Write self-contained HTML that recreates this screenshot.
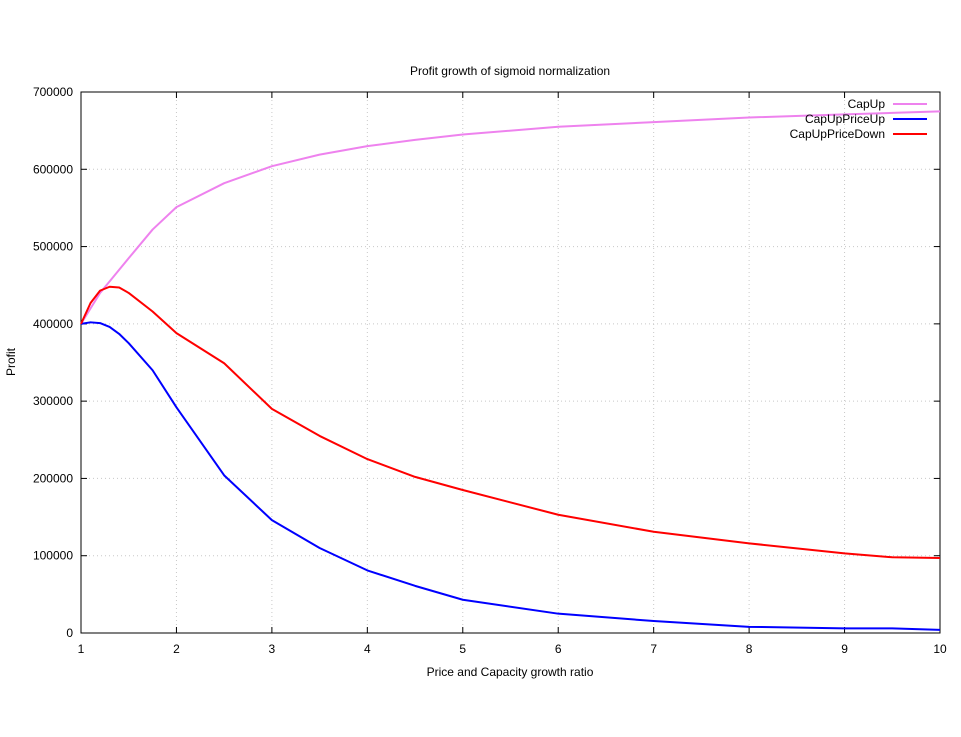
<!DOCTYPE html>
<html><head><meta charset="utf-8"><style>
body{margin:0;background:#fff;}
svg text{font-family:"Liberation Sans",sans-serif;font-size:12px;fill:#000;}
</style></head><body>
<svg id="c" width="961" height="732"></svg>
<script>
const xs = [1,1.1,1.2,1.3,1.4,1.5,1.75,2,2.5,3,3.5,4,4.5,5,6,7,8,9,9.5,10];
const capUp = [400000,420000,440000,455000,470000,485000,522000,551000,582000,604000,619000,630000,638000,645000,655000,661000,667000,671000,673000,675000];
const capUpPriceUp = [400000,402000,401000,396000,387000,375000,340000,292000,204000,146000,110000,81000,61000,43000,25000,15500,8000,6000,6000,4000];
const capUpPriceDown = [400000,427000,443000,448000,447000,440000,416000,388000,349000,290000,255000,225000,202000,185000,153000,131000,116000,103000,98000,97000];
const xTicks = [1,2,3,4,5,6,7,8,9,10];
const yTicks = [0,100000,200000,300000,400000,500000,600000,700000];
const L=81,R=940,T=92,B=633;
const sx=v=>L+(v-1)/9*(R-L), sy=v=>B-v/700000*(B-T);
const svg=document.getElementById('c'), NS='http://www.w3.org/2000/svg';
function mk(t,a,txt){const e=document.createElementNS(NS,t);for(const k in a)e.setAttribute(k,a[k]);if(txt!==undefined)e.textContent=txt;svg.appendChild(e);return e;}
xTicks.forEach(v=>{const x=sx(v);
 if(v>1&&v<10){const g=mk('line',{x1:x,y1:T,x2:x,y2:B,stroke:'#c8c8c8','stroke-dasharray':'1,3'});}
 const t=mk('line',{x1:x,y1:B,x2:x,y2:B-6,stroke:'#000'});
 const t2=mk('line',{x1:x,y1:T,x2:x,y2:T+6,stroke:'#000'});
 const l=mk('text',{x:x,y:B+20,'text-anchor':'middle'},String(v));});
yTicks.forEach(v=>{const y=sy(v);
 if(v>0&&v<700000){const g=mk('line',{x1:L,y1:y,x2:R,y2:y,stroke:'#c8c8c8','stroke-dasharray':'1,3'});}
 const t=mk('line',{x1:L,y1:y,x2:L+6,y2:y,stroke:'#000'});
 const t2=mk('line',{x1:R,y1:y,x2:R-6,y2:y,stroke:'#000'});
 const l=mk('text',{x:L-8,y:y+4,'text-anchor':'end'},String(v));});
const fr=mk('rect',{x:L,y:T,width:R-L,height:B-T,fill:'none',stroke:'#000'});


const series=[['CapUp',capUp,'#ee82ee'],['CapUpPriceUp',capUpPriceUp,'#0000ff'],['CapUpPriceDown',capUpPriceDown,'#ff0000']];
series.forEach((s,i)=>{
 const p=mk('polyline',{points:xs.map((x,j)=>sx(x)+','+sy(s[1][j])).join(' '),fill:'none',stroke:s[2],'stroke-width':2,'stroke-linejoin':'round'});
 
 
 const ly=104+i*15;
 const t=mk('text',{x:885,y:ly+4,'text-anchor':'end'},s[0]);
 
 
 const ln=mk('line',{x1:893,y1:ly,x2:927,y2:ly,stroke:s[2],'stroke-width':2});
 
 
});
const ti=mk('text',{x:510,y:75,'text-anchor':'middle'},'Profit growth of sigmoid normalization');


const xt=mk('text',{x:510,y:676,'text-anchor':'middle'},'Price and Capacity growth ratio');


const yt=mk('text',{x:15,y:362,'text-anchor':'middle',transform:'rotate(-90 15 362)'},'Profit');


</script>
</body></html>
